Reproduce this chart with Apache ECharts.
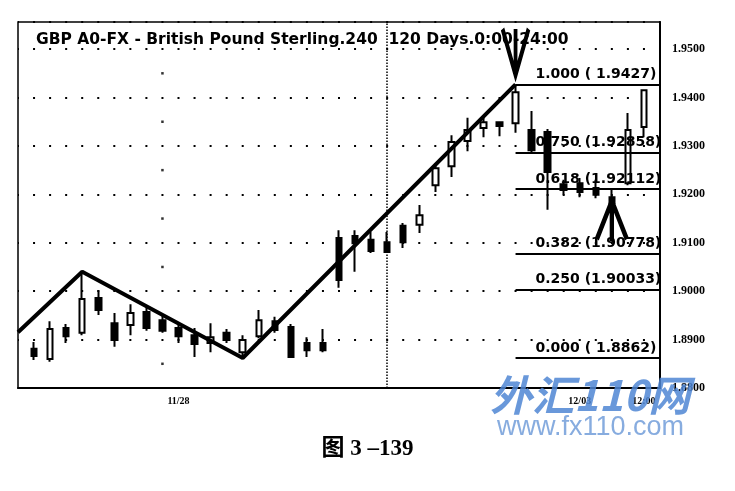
<!DOCTYPE html>
<html>
<head>
<meta charset="utf-8">
<script src="https://cdn.jsdelivr.net/npm/echarts@6/dist/echarts.min.js"></script>
<style>
html,body{margin:0;padding:0;background:#fff;}
#chart{width:735px;height:491px;}
</style>
</head>
<body>
<div id="chart"></div>
<script>
// category slots (4-hour bars); first and last slots are empty
const slotLabels = ['', '', '', '', '', '', '', '', '', '', '11/28', '', '', '', '', '', '', '', '', '', '',
  '', '', '', '', '', '', '', '', '', '', '', '', '', '', '12/03', '', '', '', '12:00', ''];
const firstSlot = 1;
const opens  = [1.8881,1.8860,1.8924,1.8914,1.8986,1.8934,1.8930,1.8957,1.8940,1.8924,1.8909,1.8893,1.8914,1.8874,1.8907,1.8938,1.8926,1.8893,1.8893,1.9110,1.9114,1.9106,1.9101,1.9135,1.9137,1.9219,1.9258,1.9310,1.9337,1.9349,1.9347,1.9333,1.9329,1.9221,1.9223,1.9213,1.9194,1.9223,1.9339];
const closes = [1.8866,1.8922,1.8907,1.8984,1.8961,1.8899,1.8955,1.8924,1.8918,1.8907,1.8891,1.8905,1.8899,1.8899,1.8940,1.8920,1.8864,1.8878,1.8878,1.9023,1.9099,1.9083,1.9081,1.9101,1.9157,1.9254,1.9308,1.9333,1.9349,1.9341,1.9411,1.9291,1.9246,1.9209,1.9205,1.9199,1.9182,1.9333,1.9415];
const lows   = [1.8858,1.8854,1.8893,1.8909,1.8951,1.8885,1.8909,1.8918,1.8914,1.8893,1.8864,1.8874,1.8893,1.8862,1.8903,1.8914,1.8863,1.8864,1.8874,1.9007,1.9040,1.9079,1.9079,1.9089,1.9120,1.9205,1.9236,1.9289,1.9318,1.9320,1.9327,1.9287,1.9168,1.9199,1.9194,1.9192,1.9174,1.9219,1.9318];
const highs  = [1.8895,1.8938,1.8932,1.9040,1.9002,1.8955,1.8973,1.8969,1.8947,1.8930,1.8924,1.8934,1.8922,1.8909,1.8961,1.8947,1.8932,1.8905,1.8922,1.9126,1.9126,1.9122,1.9122,1.9141,1.9178,1.9265,1.9322,1.9358,1.9358,1.9351,1.9427,1.9372,1.9335,1.9230,1.9234,1.9230,1.9213,1.9368,1.9415];

const zigzagSlots = [0, 4, 14, 31];
const zigzagValues = [1.8915, 1.9040, 1.8862, 1.9427];

const fibRatios = ['1.000', '0.750', '0.618', '0.382', '0.250', '0.000'];
const fibPrices = ['1.9427', '1.92858', '1.92112', '1.90778', '1.90033', '1.8862'];
const fibStartSlot = 31;
const fibEndSlot = 40;

const lastPrice = 1.9415;
const dayLineSlot = 23;
const markerSlot = 9;
const markerValues = [1.885, 1.895, 1.905, 1.915, 1.925, 1.935, 1.945];
const topArrow = [31, 1.9494];
const bottomArrow = [37, 1.9145];

const yMin = 1.88, yMax = 1.9556, yStep = 0.01;

const candleData = opens.map((o, i) => [i + firstSlot, o, closes[i], lows[i], highs[i]]);
const zigzagData = zigzagSlots.map((s, i) => [s, zigzagValues[i]]);
const fibData = fibRatios.map((r, i) => {
  const p = parseFloat(fibPrices[i]);
  const txt = r + ' (' + (fibPrices[i].length < 7 ? ' ' : '') + fibPrices[i] + ')';
  return [{coord: [fibStartSlot, p], label: {formatter: txt}}, {coord: [fibEndSlot, p]}];
});

const chart = echarts.init(document.getElementById('chart'), null, {renderer: 'canvas'});
const serif = '"Liberation Serif", "Times New Roman", serif';
const heavy = '"DejaVu Sans", sans-serif';

chart.setOption({
  animation: false,
  backgroundColor: '#fff',
  title: {
    text: 'GBP A0-FX - British Pound Sterling.240  120 Days.0:00-24:00',
    left: 31, top: 27,
    textStyle: {fontFamily: heavy, fontWeight: 'bold', fontSize: 15.5, color: '#000'}
  },
  grid: {left: 18, right: 75, top: 22, bottom: 103, show: true, borderColor: '#000', borderWidth: 1.5, backgroundColor: 'transparent'},
  xAxis: {
    type: 'category',
    data: slotLabels,
    boundaryGap: false,
    axisLine: {lineStyle: {color: '#000', width: 2}},
    axisTick: {show: false},
    splitLine: {show: false},
    axisLabel: {interval: 0, color: '#000', fontFamily: serif, fontWeight: 'bold', fontSize: 10, margin: 8}
  },
  yAxis: {
    type: 'value',
    position: 'right',
    min: yMin, max: yMax, interval: yStep,
    scale: true,
    axisLine: {show: true, lineStyle: {color: '#000', width: 2}},
    axisTick: {show: false},
    axisLabel: {showMaxLabel: false, color: '#000', fontFamily: serif, fontWeight: 'bold', fontSize: 12, margin: 12,
      formatter: v => v.toFixed(4)},
    splitLine: {show: true, lineStyle: {color: '#000', width: 2, type: [2, 14.05], dashOffset: 1}}
  },
  series: [
    {
      type: 'candlestick',
      data: candleData,
      encode: {x: 0, y: [1, 2, 3, 4]},
      barWidth: 6,
      itemStyle: {color: '#fff', color0: '#000', borderColor: '#000', borderColor0: '#000', borderWidth: 2},
      markLine: {
        silent: true, symbol: ['none', 'none'],
        data: [
          {xAxis: dayLineSlot, lineStyle: {color: '#000', width: 1.5, type: [1.5, 1.5]}, label: {show: false}},
          {yAxis: lastPrice, lineStyle: {opacity: 0}, label: {show: true, position: 'end', distance: 12,
            formatter: lastPrice.toFixed(4), color: '#000', fontFamily: serif, fontWeight: 'bold', fontSize: 12}}
        ]
      },
      markPoint: {
        silent: true,
        label: {show: false},
        data: [
          {coord: topArrow, symbol: 'path://M2 0 L14 46 L26 0 M14 0 L14 46', symbolSize: [26, 46], symbolKeepAspect: false,
            itemStyle: {color: 'transparent', borderColor: '#000', borderWidth: 5}},
          {coord: bottomArrow, symbol: 'path://M2 40 L14 0 L26 40 M14 0 L14 42', symbolSize: [30, 40], symbolKeepAspect: false,
            itemStyle: {color: 'transparent', borderColor: '#000', borderWidth: 5}}
        ]
      }
    },
    {
      type: 'line',
      data: zigzagData,
      symbol: 'none',
      lineStyle: {color: '#000', width: 4},
      z: 5,
      markLine: {
        silent: true, symbol: ['none', 'none'],
        lineStyle: {color: '#000', width: 2, type: 'solid'},
        label: {show: true, position: 'insideStartTop', distance: 3, padding: [0, 0, 0, 17],
          color: '#000', fontFamily: heavy, fontWeight: 'bold', fontSize: 14},
        data: fibData
      }
    },
    {
      type: 'scatter',
      data: markerValues.map(v => [markerSlot, v]),
      symbol: 'rect', symbolSize: 2.5,
      itemStyle: {color: '#000'}
    }
  ],
  graphic: [
    {type: 'text', left: 490, top: 374, z: 100, style: {text: '外汇110网', fill: '#4f86d4', opacity: 0.85,
      font: 'italic bold 42px "Noto Sans CJK SC", sans-serif'}},
    {type: 'text', left: 497, top: 414, z: 100, style: {text: 'www.fx110.com', fill: '#7aa3dc', opacity: 0.9,
      font: '27px "Liberation Sans", sans-serif'}},
    {type: 'text', left: 'center', top: 438, style: {text: '图 3 –139', fill: '#000',
      font: 'bold 23px "Liberation Serif", "Noto Sans CJK SC", serif'}}
  ]
});
</script>
</body>
</html>
